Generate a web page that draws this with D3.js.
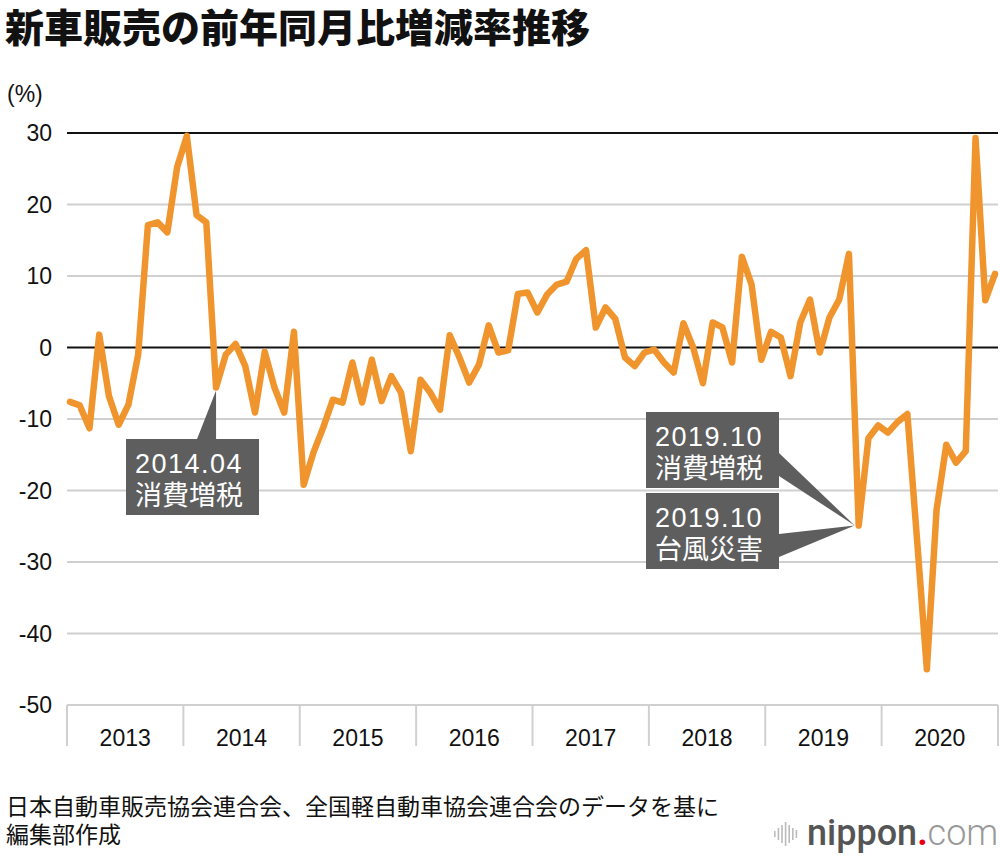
<!DOCTYPE html>
<html>
<head>
<meta charset="utf-8">
<script src="https://cdn.jsdelivr.net/npm/d3@7"></script>
<style>
  body { margin: 0; background: #fff; }
  svg { display: block; }
</style>
</head>
<body>
<div id="chart"></div>
<script>
const width = 1000;
const height = 856;
const fontFamily = "Helvetica, Arial, 'Liberation Sans', 'Noto Sans CJK JP', sans-serif";

const years = ["2013", "2014", "2015", "2016", "2017", "2018", "2019", "2020"];
const yTicks = [30, 20, 10, 0, -10, -20, -30, -40, -50];
// monthly YoY change (%), Jan 2013 - Dec 2020
const changeRate = [
  -7.6, -8.1, -11.3, 1.8, -6.8, -10.8, -8.0, -1.0, 17.1, 17.5, 16.1, 25.2,
  29.6, 18.5, 17.5, -5.6, -1.0, 0.5, -2.6, -9.1, -0.6, -5.6, -9.1, 2.2,
  -19.2, -14.7, -11.2, -7.3, -7.7, -2.1, -7.7, -1.7, -7.5, -4.0, -6.3, -14.5,
  -4.5, -6.3, -8.7, 1.7, -1.4, -4.9, -2.4, 3.1, -0.7, -0.4, 7.5, 7.7,
  4.9, 7.4, 8.8, 9.2, 12.4, 13.6, 2.8, 5.6, 4.0, -1.4, -2.6, -0.7,
  -0.3, -2.1, -3.5, 3.4, 0.0, -5.0, 3.5, 2.8, -2.1, 12.7, 8.8, -1.7,
  2.2, 1.4, -4.0, 3.5, 6.7, -0.7, 4.2, 6.7, 13.1, -24.9, -12.7, -10.9,
  -11.9, -10.4, -9.3, -27.0, -45.0, -22.7, -13.6, -16.1, -14.5, 29.3, 6.6, 10.3,
];
const notes = [
  { index: 15, lines: ["2014.04", "消費増税"], box: [126, 439], side: "top" },
  { index: 81, lines: ["2019.10", "消費増税"], box: [646, 412], side: "right" },
  { index: 81, lines: ["2019.10", "台風災害"], box: [646, 493], side: "right" },
];
const sourceLines = ["日本自動車販売協会連合会、全国軽自動車協会連合会のデータを基に", "編集部作成"];

const plot = { left: 67, right: 998, top: 133, bottom: 705 };
const boxW = 133;
const boxH = 76;

const svg = d3
  .select("#chart")
  .append("svg")
  .attr("width", width)
  .attr("height", height)
  .style("font-family", fontFamily);

const y = d3.scaleLinear().domain([-50, 30]).range([plot.bottom, plot.top]);
const x = d3.scaleLinear().domain([0, changeRate.length - 1]).range([70, 995]);
const yearScale = d3.scaleBand().domain(years).range([plot.left, plot.right]);

// title
svg
  .append("text")
  .attr("x", 5)
  .attr("y", 42)
  .attr("font-size", 39)
  .attr("font-weight", 900)
  .attr("fill", "#111")
  .style("font-family", "'Noto Sans CJK JP', sans-serif")
  .text("新車販売の前年同月比増減率推移");

svg
  .append("text")
  .attr("x", 7)
  .attr("y", 102)
  .attr("font-size", 23)
  .attr("fill", "#111")
  .text("(%)");

// grid
svg
  .append("g")
  .selectAll("line")
  .data(yTicks)
  .join("line")
  .attr("x1", plot.left)
  .attr("x2", plot.right)
  .attr("y1", (d) => y(d))
  .attr("y2", (d) => y(d))
  .attr("stroke", (d) => (d === 0 || d === 30 ? "#111" : "#d0d0d0"))
  .attr("stroke-width", 2);

svg
  .append("g")
  .selectAll("text")
  .data(yTicks)
  .join("text")
  .attr("x", 52)
  .attr("y", (d) => y(d))
  .attr("dy", "0.36em")
  .attr("text-anchor", "end")
  .attr("font-size", 23)
  .attr("fill", "#111")
  .text((d) => d);

// year axis
const yearEdges = years.map((d) => yearScale(d)).concat([plot.right]);
svg
  .append("g")
  .selectAll("line")
  .data(yearEdges)
  .join("line")
  .attr("x1", (d) => d)
  .attr("x2", (d) => d)
  .attr("y1", plot.bottom)
  .attr("y2", plot.bottom + 41)
  .attr("stroke", "#d0d0d0")
  .attr("stroke-width", 2);

svg
  .append("g")
  .selectAll("text")
  .data(years)
  .join("text")
  .attr("x", (d) => yearScale(d) + yearScale.bandwidth() / 2)
  .attr("y", 746)
  .attr("text-anchor", "middle")
  .attr("font-size", 23)
  .attr("fill", "#111")
  .text((d) => d);

// line
const line = d3
  .line()
  .x((d, i) => x(i))
  .y((d) => y(d));

svg
  .append("path")
  .datum(changeRate)
  .attr("d", line)
  .attr("fill", "none")
  .attr("stroke", "#f0952e")
  .attr("stroke-width", 6.5)
  .attr("stroke-linejoin", "round")
  .attr("stroke-linecap", "round");

// annotations
const noteG = svg.append("g");
notes.forEach((n) => {
  const px = x(n.index);
  const py = y(changeRate[n.index]);
  const [bx, by] = n.box;
  let tri;
  if (n.side === "top") {
    tri = [[px - 19, by], [px, by], [px, py + 3]];
  } else if (by < py) {
    tri = [[bx + boxW, by + 41], [bx + boxW, by + 64], [px - 4, py]];
  } else {
    tri = [[bx + boxW, by + 40], [bx + boxW, by + 62], [px - 4, py]];
  }
  noteG
    .append("path")
    .attr("d", d3.line()(tri) + "Z")
    .attr("fill", "#5e5e5e");
  noteG
    .append("rect")
    .attr("x", bx)
    .attr("y", by)
    .attr("width", boxW)
    .attr("height", boxH)
    .attr("fill", "#5e5e5e");
  noteG
    .append("g")
    .selectAll("text")
    .data(n.lines)
    .join("text")
    .attr("x", bx + 9)
    .attr("y", (d, i) => by + 34 + i * 32)
    .attr("font-size", 27)
    .attr("letter-spacing", (d, i) => (i === 0 ? 1.5 : 0))
    .attr("fill", "#fff")
    .text((d) => d);
});

// source
svg
  .append("g")
  .selectAll("text")
  .data(sourceLines)
  .join("text")
  .attr("x", 6)
  .attr("y", (d, i) => 815 + i * 28)
  .attr("font-size", 23)
  .attr("fill", "#111")
  .style("font-family", "'Noto Sans CJK JP', sans-serif")
  .text((d) => d);

// logo
const logo = svg.append("g").attr("transform", "translate(774,834)");
const bars = [6, 12, 18, 24, 18, 12, 8];
logo
  .selectAll("rect")
  .data(bars)
  .join("rect")
  .attr("x", (d, i) => i * 3.6)
  .attr("y", (d) => -d / 2)
  .attr("width", 1.6)
  .attr("height", (d) => d)
  .attr("fill", "#bbb");
const logoText = logo
  .append("text")
  .attr("x", 33)
  .attr("y", 11)
  .attr("font-size", 36)
  .style("font-family", "Roboto, 'Open Sans', sans-serif");
logoText.append("tspan").attr("fill", "#555").attr("font-weight", "500").text("nippon");
logoText.append("tspan").attr("fill", "#e60012").attr("font-weight", "bold").text(".");
logoText.append("tspan").attr("fill", "#999").attr("font-weight", "300").text("com");
</script>
</body>
</html>
